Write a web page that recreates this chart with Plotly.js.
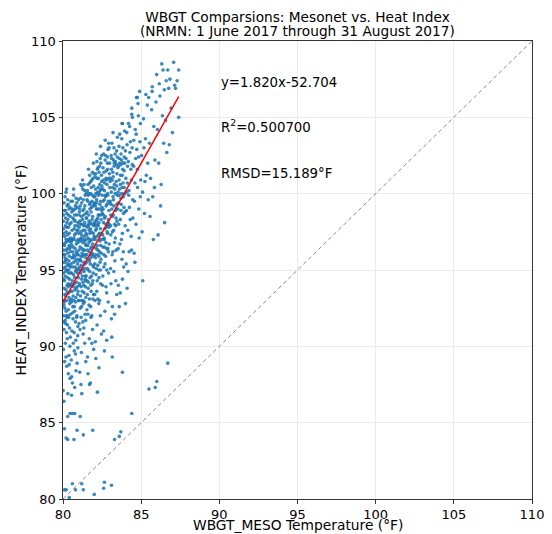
<!DOCTYPE html>
<html><head><meta charset="utf-8">
<script src="https://cdn.plot.ly/plotly-3.0.1.min.js"></script>
<style>html,body{margin:0;padding:0;background:#fff}</style>
</head><body><div id="chart" style="width:552px;height:534px"></div>
<script>
// Points, grouped by WBGT_MESO band: [WBGT_MESO, HEAT_INDEX]
const pts80_0 = [[80.02,95.1],[80.05,96.3],[80.08,93.8],[80.11,97.2],[80.14,94.6],[80.17,98.4],[80.2,92.3],[80.23,95.7],[80.26,96.9],[80.29,91.4],[80.32,94.1],[80.35,97.8],[80.38,93.2],[80.41,95.9],[80.44,99.1],[80.47,90.6],[80.03,89.8],[80.06,92.7],[80.09,98.9],[80.12,96.0],[80.15,90.2],[80.18,94.9],[80.21,97.5],[80.24,88.7],[80.27,93.5],[80.3,99.6],[80.33,95.3],[80.36,91.9],[80.39,96.6],[80.42,94.4],[80.45,87.9],[80.48,97.1],[80.04,97.7],[80.07,91.1],[80.1,94.3],[80.13,99.8],[80.16,95.6],[80.19,89.3],[80.22,93.0],[80.25,98.1],[80.28,96.4],[80.31,92.0],[80.34,88.2],[80.37,95.0],[80.4,97.4],[80.43,92.8],[80.46,96.2],[80.49,93.6],[80.01,87.1],[80.06,86.4],[80.14,91.7],[80.22,90.9],[80.31,86.9],[80.38,89.4],[80.44,90.0],[80.09,95.5],[80.17,96.8],[80.26,94.0],[80.35,98.6],[80.42,97.0],[80.02,98.2],[80.12,92.5],[80.28,95.4],[80.47,94.8],[80.19,100.1],[80.33,99.3],[80.1,84.6],[80.2,84.0],[80.3,83.9],[80.1,80.6],[80.2,80.6],[80.4,80.1],[80.3,85.4],[80.45,85.6],
  [80.05,94.4],[80.08,96.7],[80.12,93.4],[80.15,97.9],[80.18,92.0],[80.21,95.0],[80.24,98.7],[80.27,90.5],[80.3,96.1],[80.33,93.9],[80.36,94.8],[80.39,99.0],[80.42,91.2],[80.45,96.5],[80.48,95.2],[80.03,91.6],[80.07,99.4],[80.11,89.0],[80.16,93.3],[80.2,97.0],[80.25,91.9],[80.29,97.3],[80.34,92.4],[80.38,95.6],[80.43,98.0],[80.47,92.1],[80.01,93.0],[80.04,96.0],[80.23,100.3],[80.4,88.8]];
const pts80_5 = [[80.52,95.4],[80.55,93.1],[80.58,97.6],[80.61,96.2],[80.64,91.8],[80.67,94.7],[80.7,98.3],[80.73,92.6],[80.76,95.9],[80.79,99.2],[80.82,90.4],[80.85,96.7],[80.88,94.2],[80.91,97.9],[80.94,93.4],[80.97,95.1],[80.53,89.1],[80.56,98.8],[80.59,94.0],[80.62,92.2],[80.65,96.5],[80.68,100.3],[80.71,90.9],[80.74,97.3],[80.77,93.7],[80.8,95.6],[80.83,88.4],[80.86,98.6],[80.89,92.0],[80.92,96.0],[80.95,91.3],[80.98,97.0],[80.54,96.9],[80.57,91.0],[80.6,87.6],[80.63,95.2],[80.66,93.9],[80.69,97.1],[80.72,89.7],[80.75,94.5],[80.78,96.4],[80.81,92.9],[80.84,99.7],[80.87,95.0],[80.9,88.9],[80.93,94.8],[80.96,98.1],[80.99,93.0],[80.51,94.1],[80.6,99.5],[80.7,95.8],[80.8,91.6],[80.9,96.1],[80.55,86.8],[80.75,87.3],[80.95,89.9],[80.6,81.0],[80.8,80.6],[80.7,83.9],[80.6,85.6],[80.75,85.6],[80.9,84.5],
  [80.51,96.8],[80.54,92.9],[80.57,95.8],[80.6,94.3],[80.63,98.4],[80.66,90.2],[80.69,95.5],[80.72,97.7],[80.75,92.3],[80.78,99.0],[80.81,94.9],[80.84,96.2],[80.87,91.9],[80.9,97.6],[80.93,95.4],[80.96,93.6],[80.99,99.6],[80.52,98.1],[80.58,93.6],[80.64,97.0],[80.7,93.0],[80.76,97.9],[80.82,93.2],[80.88,96.9],[80.94,90.7],[80.56,88.0],[80.68,99.9],[80.8,89.5],[80.92,99.1],[80.98,94.5]];
const pts81_0 = [[81.02,96.3],[81.05,94.0],[81.08,98.2],[81.11,92.5],[81.14,97.0],[81.17,95.3],[81.2,99.4],[81.23,93.6],[81.26,96.8],[81.29,90.8],[81.32,97.9],[81.35,94.9],[81.38,100.2],[81.41,92.1],[81.44,96.0],[81.47,98.7],[81.03,91.5],[81.06,99.0],[81.09,95.7],[81.12,93.3],[81.15,97.5],[81.18,89.6],[81.21,96.4],[81.24,94.6],[81.27,98.9],[81.3,92.8],[81.33,95.5],[81.36,97.2],[81.39,90.2],[81.42,99.9],[81.45,94.3],[81.48,96.6],[81.04,97.8],[81.07,88.3],[81.1,96.9],[81.13,100.6],[81.16,91.9],[81.19,94.4],[81.22,98.0],[81.25,95.9],[81.28,93.0],[81.31,99.6],[81.34,91.2],[81.37,95.1],[81.4,97.6],[81.43,93.9],[81.46,89.0],[81.49,98.4],[81.05,95.0],[81.15,87.5],[81.25,100.9],[81.35,93.5],[81.45,95.8],[81.2,86.9],[81.2,81.0],[81.3,80.6],[81.3,84.2],[81.1,85.4],
  [81.01,97.4],[81.04,93.0],[81.07,95.2],[81.1,99.2],[81.13,94.8],[81.16,97.1],[81.19,92.6],[81.22,96.1],[81.25,98.3],[81.28,94.2],[81.31,96.3],[81.34,99.0],[81.37,92.9],[81.4,95.4],[81.43,97.9],[81.46,93.2],[81.49,100.0],[81.03,98.6],[81.09,91.1],[81.15,95.9],[81.21,100.5],[81.27,91.6],[81.33,94.0],[81.39,98.1],[81.45,91.7],[81.06,94.1],[81.18,98.5],[81.3,97.0],[81.42,96.7],[81.48,94.6]];
const pts81_5 = [[81.52,97.3],[81.55,95.1],[81.58,99.5],[81.61,93.8],[81.64,98.0],[81.67,96.2],[81.7,100.7],[81.73,94.5],[81.76,97.7],[81.79,91.9],[81.82,99.1],[81.85,96.0],[81.88,101.4],[81.91,93.1],[81.94,97.4],[81.97,99.8],[81.53,92.4],[81.56,100.2],[81.59,96.6],[81.62,94.2],[81.65,98.6],[81.68,90.5],[81.71,97.0],[81.74,95.4],[81.77,100.0],[81.8,93.6],[81.83,96.5],[81.86,98.3],[81.89,91.1],[81.92,101.0],[81.95,95.2],[81.98,97.9],[81.54,98.8],[81.57,89.3],[81.6,97.1],[81.63,101.6],[81.66,92.7],[81.69,95.6],[81.72,99.0],[81.75,96.9],[81.78,94.0],[81.81,100.4],[81.84,92.0],[81.87,96.1],[81.9,98.5],[81.93,94.8],[81.96,89.8],[81.99,99.3],[81.6,88.2],[81.75,87.6],[81.85,90.2],[81.95,102.0],[81.9,84.5],[81.7,87.5],
  [81.51,98.4],[81.54,94.3],[81.57,96.3],[81.6,100.6],[81.63,95.7],[81.66,98.2],[81.69,93.1],[81.72,97.4],[81.75,99.4],[81.78,95.8],[81.81,97.5],[81.84,100.9],[81.87,94.1],[81.9,96.7],[81.93,99.2],[81.96,95.9],[81.99,97.2],[81.53,96.0],[81.59,92.1],[81.65,96.8],[81.71,101.2],[81.77,92.6],[81.83,94.6],[81.89,99.9],[81.95,93.4],[81.62,99.9],[81.8,98.8],[81.98,101.3]];
const pts82_0 = [[82.02,98.1],[82.05,96.0],[82.08,100.3],[82.11,94.7],[82.14,99.0],[82.17,97.2],[82.2,101.6],[82.23,95.3],[82.26,98.6],[82.29,92.8],[82.32,100.0],[82.35,96.9],[82.38,102.3],[82.41,94.1],[82.44,98.3],[82.47,100.8],[82.03,93.4],[82.06,101.1],[82.09,97.6],[82.12,95.1],[82.15,99.6],[82.18,91.4],[82.21,98.0],[82.24,96.3],[82.27,101.0],[82.3,94.5],[82.33,97.4],[82.36,99.3],[82.39,92.0],[82.42,102.0],[82.45,96.1],[82.48,98.9],[82.04,99.8],[82.07,90.3],[82.1,98.2],[82.13,102.6],[82.16,93.6],[82.19,96.6],[82.22,100.1],[82.25,97.9],[82.28,95.0],[82.31,101.4],[82.34,93.0],[82.37,97.0],[82.4,99.5],[82.43,95.7],[82.46,90.8],[82.49,100.5],[82.1,89.2],[82.3,88.6],[82.4,103.1],[82.0,80.3],[82.2,87.0],
  [82.01,97.1],[82.04,95.4],[82.07,99.2],[82.1,101.3],[82.13,96.4],[82.16,99.4],[82.19,94.3],[82.22,98.4],[82.25,100.4],[82.28,97.3],[82.31,98.6],[82.34,101.8],[82.37,95.5],[82.4,97.7],[82.43,100.3],[82.46,97.4],[82.49,99.1],[82.05,93.0],[82.11,97.9],[82.17,102.1],[82.23,93.1],[82.29,95.9],[82.35,100.6],[82.41,96.6],[82.47,102.5],[82.2,99.0]];
const pts82_5 = [[82.52,98.7],[82.55,96.5],[82.58,100.9],[82.61,95.2],[82.64,99.6],[82.67,97.7],[82.7,102.2],[82.73,95.9],[82.76,99.2],[82.79,93.5],[82.82,100.6],[82.85,97.4],[82.88,102.9],[82.91,94.8],[82.94,98.9],[82.97,101.3],[82.53,94.0],[82.56,101.7],[82.59,98.1],[82.62,96.0],[82.65,100.2],[82.68,92.3],[82.71,98.5],[82.74,96.8],[82.77,101.5],[82.8,95.0],[82.83,97.9],[82.86,99.9],[82.89,92.9],[82.92,103.3],[82.95,96.7],[82.98,99.4],[82.6,91.0],[82.7,103.5],[82.8,90.4],[82.9,96.2],[82.65,89.7],[82.85,102.4],[82.6,80.7],[82.65,81.1],
  [82.51,99.9],[82.54,97.3],[82.57,99.0],[82.6,102.6],[82.63,97.1],[82.66,100.7],[82.69,95.4],[82.72,99.8],[82.75,101.0],[82.78,97.8],[82.81,99.3],[82.84,102.0],[82.87,96.4],[82.9,98.3],[82.93,101.0],[82.96,98.0],[82.99,100.4],[82.55,94.6],[82.65,98.4],[82.75,93.9],[82.85,100.0],[82.95,103.0]];
const pts83_0 = [[83.02,99.5],[83.06,97.3],[83.1,101.6],[83.14,96.0],[83.18,100.4],[83.22,98.6],[83.26,103.0],[83.3,96.8],[83.34,100.0],[83.38,94.3],[83.42,101.9],[83.46,98.2],[83.04,95.1],[83.08,102.5],[83.12,99.0],[83.16,92.6],[83.2,99.8],[83.24,97.6],[83.28,102.0],[83.32,95.6],[83.36,98.9],[83.4,100.8],[83.44,93.4],[83.48,103.7],[83.05,97.9],[83.15,100.9],[83.25,94.9],[83.35,97.1],[83.45,99.3],[83.1,91.8],[83.3,92.1],[83.2,104.0],[83.4,96.3],[83.12,90.6],[83.1,80.9],[83.3,83.9],[83.15,89.3],
  [83.01,100.8],[83.05,98.6],[83.09,100.1],[83.13,103.3],[83.17,97.5],[83.21,101.1],[83.25,99.2],[83.29,100.6],[83.33,102.6],[83.37,97.9],[83.41,99.0],[83.45,101.3],[83.49,99.9],[83.07,94.1],[83.19,96.2],[83.31,98.0],[83.43,102.8],[83.23,102.2]];
const pts83_5 = [[83.52,100.1],[83.56,98.0],[83.6,102.3],[83.64,96.7],[83.68,101.2],[83.72,99.3],[83.76,103.6],[83.8,97.4],[83.84,100.7],[83.88,95.2],[83.92,102.4],[83.96,98.8],[83.54,94.0],[83.58,103.1],[83.62,100.3],[83.66,93.5],[83.7,99.7],[83.74,97.0],[83.78,104.6],[83.82,101.6],[83.86,96.2],[83.9,99.1],[83.94,104.1],[83.98,97.9],[83.6,92.6],[83.8,94.4],[83.7,101.9],[83.6,84.1],[83.7,84.4],[83.8,88.3],[83.8,104.6],
  [83.51,101.7],[83.55,99.4],[83.59,100.9],[83.63,103.9],[83.67,98.3],[83.71,102.6],[83.75,100.0],[83.79,101.2],[83.83,103.0],[83.87,98.7],[83.91,100.4],[83.95,102.0],[83.53,96.4],[83.77,95.7]];
const pts84_0 = [[84.02,101.0],[84.06,98.9],[84.1,103.2],[84.14,97.6],[84.18,102.1],[84.22,100.2],[84.26,104.4],[84.3,98.3],[84.34,101.6],[84.38,96.3],[84.42,103.0],[84.46,99.6],[84.04,95.4],[84.08,104.0],[84.12,100.7],[84.16,94.9],[84.2,99.9],[84.28,102.7],[84.36,97.2],[84.44,105.0],[84.1,93.8],[84.0,92.8],[84.4,105.6],[84.4,105.2],[84.4,85.6],
  [84.03,102.3],[84.07,100.1],[84.13,101.8],[84.19,104.6],[84.25,99.1],[84.31,103.4],[84.37,100.9],[84.43,101.9],[84.47,98.4],[84.23,96.2]];
const pts84_5 = [[84.52,101.8],[84.57,99.5],[84.62,104.2],[84.67,98.0],[84.72,102.9],[84.77,100.4],[84.82,105.1],[84.87,97.1],[84.92,103.4],[84.97,100.9],[84.55,96.1],[84.65,102.3],[84.75,106.3],[84.85,99.0],[84.95,104.6],[84.6,95.5],[84.8,105.9],[84.9,106.7],[84.7,106.3],
  [84.53,103.5],[84.6,100.7],[84.68,103.9],[84.76,101.6],[84.84,102.4],[84.94,99.8]];
const pts85_0 = [[85.03,102.5],[85.09,100.1],[85.15,104.9],[85.21,98.7],[85.27,103.6],[85.33,101.2],[85.39,105.8],[85.45,99.6],[85.06,97.5],[85.18,103.0],[85.3,106.5],[85.42,102.0],[85.1,94.3],[85.24,100.8],[85.48,106.3]];
const pts85_5 = [[85.53,103.3],[85.6,101.0],[85.67,105.5],[85.74,99.8],[85.81,104.4],[85.88,102.2],[85.95,106.0],[85.57,98.5],[85.71,107.0],[85.85,100.4],[85.7,106.7],[85.5,87.2],[85.9,87.3],[85.99,107.8],[85.78,97.0]];
const pts86_0 = [[86.04,104.2],[86.12,102.0],[86.2,106.4],[86.28,100.6],[86.36,105.1],[86.44,103.3],[86.08,97.3],[86.16,107.2],[86.32,108.5],[86.4,108.1],[86.0,87.7],[86.24,99.2],[86.48,106.8]];
const pts86_5 = [[86.5,98.1],[86.56,104.8],[86.64,102.7],[86.7,108.1],[86.76,106.9],[86.84,107.5],[86.7,88.9],[86.8,103.2],[86.92,105.6],[87.0,104.0],[87.08,108.6],[87.14,107.1],[87.2,106.9],[87.3,107.4],[87.4,108.1],[87.4,105.0],[86.6,107.4]];
// Extra points in the solid core of the cloud
const ptsCoreDense = [[80.03,94.8],[80.06,97.4],[80.09,92.9],[80.13,95.8],[80.16,98.9],[80.19,93.7],[80.22,96.3],[80.26,99.2],[80.29,94.5],[80.32,97.0],[80.36,93.5],[80.39,95.3],[80.43,96.4],[80.46,98.5],[80.49,94.0],[80.52,97.0],[80.55,94.8],[80.59,99.0],[80.62,95.8],[80.65,93.3],[80.68,96.0],[80.72,94.1],[80.75,98.6],[80.78,95.2],[80.82,97.4],[80.85,93.8],[80.88,99.4],[80.91,95.7],[80.95,97.6],[80.98,96.0],[80.04,98.6],[80.1,96.6],[80.17,91.5],[80.24,97.8],[80.31,98.3],[80.37,96.9],[80.44,93.0],[80.5,99.5],[80.57,96.6],[80.63,92.6],[80.7,97.0],[80.77,98.2],[80.83,95.0],[80.9,93.9],[80.96,96.8],[80.02,92.0],[80.14,95.2],[80.27,95.0],[80.41,94.0],[80.66,98.9],
  [81.02,95.6],[81.05,98.8],[81.09,96.5],[81.12,99.7],[81.16,93.9],[81.19,97.3],[81.23,95.0],[81.26,100.3],[81.3,96.0],[81.33,98.6],[81.37,96.3],[81.4,99.2],[81.44,94.6],[81.47,97.4],[81.5,95.5],[81.54,99.6],[81.57,97.8],[81.61,95.0],[81.64,100.0],[81.68,97.6],[81.71,94.9],[81.75,98.1],[81.78,100.8],[81.82,96.0],[81.85,99.5],[81.89,97.0],[81.92,95.3],[81.96,100.5],[81.99,98.0],[81.07,97.0],[81.14,95.6],[81.21,93.0],[81.28,97.6],[81.35,100.6],[81.42,94.4],[81.49,97.0],[81.56,93.4],[81.63,97.9],[81.7,99.3],[81.77,96.4],[81.84,98.0],[81.91,94.3],[81.97,96.5],[81.11,98.0],[81.39,96.9],
  [82.02,99.4],[82.06,97.0],[82.1,100.0],[82.14,97.7],[82.18,101.0],[82.22,96.0],[82.26,99.9],[82.3,98.1],[82.34,96.2],[82.38,100.2],[82.42,98.6],[82.46,101.2],[82.5,97.0],[82.54,100.3],[82.58,98.6],[82.62,101.4],[82.66,96.5],[82.7,99.9],[82.74,98.0],[82.78,100.9],[82.82,97.5],[82.86,101.6],[82.9,99.5],[82.94,97.8],[82.98,102.0],[82.08,95.8],[82.24,101.7],[82.4,95.0],[82.56,99.5],[82.72,102.5],[82.88,98.1],[82.32,99.0],[82.64,97.0],[82.16,98.3],[82.8,96.4],
  [83.03,101.0],[83.07,99.3],[83.11,102.3],[83.15,98.5],[83.19,101.4],[83.23,99.6],[83.27,101.8],[83.31,100.3],[83.35,102.1],[83.39,98.4],[83.43,100.5],[83.47,102.4],[83.51,99.0],[83.55,101.8],[83.59,99.9],[83.63,102.0],[83.67,100.6],[83.71,98.9],[83.75,102.2],[83.79,100.4],[83.83,102.0],[83.87,99.8],[83.91,101.5],[83.95,100.0],[83.99,102.8]];

// Regression and statistics shown on the chart
const fitSlope = 1.820;
const fitIntercept = -52.704;
const titleLine1 = 'WBGT Comparsions: Mesonet vs. Heat Index';
const titleLine2 = '(NRMN: 1 June 2017 through 31 August 2017)';
const xTitle = 'WBGT_MESO Temperature (°F)';
const yTitle = 'HEAT_INDEX Temperature (°F)';
const eqText = 'y=1.820x-52.704';
const r2Text = 'R<sup>2</sup>=0.500700';
const rmsdText = 'RMSD=15.189°F';
const axisTicks = [80, 85, 90, 95, 100, 105, 110];
const oneToOne = [80, 110];

const allPts = [].concat(pts80_0, pts80_5, pts81_0, pts81_5, pts82_0, pts82_5, pts83_0,
  pts83_5, pts84_0, pts84_5, pts85_0, pts85_5, pts86_0, pts86_5, ptsCoreDense);
const xs = allPts.map(p => p[0]);
const ys = allPts.map(p => p[1]);
const xMin = Math.min(...xs), xMax = Math.max(...xs);

const font = 'DejaVu Sans, sans-serif';
const traces = [
  {x: oneToOne, y: oneToOne, type: 'scatter', mode: 'lines',
   line: {color: '#888888', width: 1, dash: '4px,3px'}, hoverinfo: 'skip'},
  {x: xs, y: ys, type: 'scatter', mode: 'markers',
   marker: {color: '#1f77b4', size: 3.6, opacity: 0.88, line: {width: 0}}},
  {x: [xMin, xMax], y: [fitSlope * xMin + fitIntercept, fitSlope * xMax + fitIntercept],
   type: 'scatter', mode: 'lines', line: {color: '#ff0000', width: 1.5}}
];

const axisCommon = {
  range: [80, 110], tickvals: axisTicks, ticktext: axisTicks.map(String),
  showgrid: true, gridcolor: '#ebebeb', gridwidth: 1, zeroline: false,
  showline: true, mirror: true, linecolor: '#333333', linewidth: 1,
  ticks: 'outside', ticklen: 3.5, tickcolor: '#333333',
  tickfont: {family: font, size: 13, color: '#000'}, automargin: false
};

const textFont = {family: font, size: 13.3, color: '#000'};
const layout = {
  width: 552, height: 534,
  margin: {l: 63, r: 20, t: 41, b: 35},
  paper_bgcolor: '#ffffff', plot_bgcolor: '#ffffff',
  showlegend: false,
  font: {family: font, color: '#000'},
  title: {text: titleLine1,
          font: {family: font, size: 13.7, color: '#000'}, x: 0.5, xref: 'paper', xanchor: 'center',
          y: 1 - 17 / 534, yref: 'container', yanchor: 'middle'},
  xaxis: Object.assign({}, axisCommon),
  yaxis: Object.assign({}, axisCommon, {
    title: {text: yTitle, font: {family: font, size: 14, color: '#000'}, standoff: 1}}),
  annotations: [
    {x: 0.5, y: 1 + 10 / 458, xref: 'paper', yref: 'paper', xanchor: 'center', yanchor: 'middle',
     text: titleLine2, showarrow: false, font: {family: font, size: 13.7, color: '#000'}},
    {x: 0.5, y: -(525 - 499) / 458, xref: 'paper', yref: 'paper', xanchor: 'center', yanchor: 'middle',
     text: xTitle, showarrow: false, font: {family: font, size: 13.8, color: '#000'}}
  ].concat([
    {x: 90, y: 107.3, text: eqText},
    {x: 90, y: 104.4, text: r2Text},
    {x: 90, y: 101.35, text: rmsdText}
  ].map(a => Object.assign(a, {xref: 'x', yref: 'y', xanchor: 'left', yanchor: 'middle',
      showarrow: false, font: textFont})))
};

Plotly.newPlot('chart', traces, layout, {displayModeBar: false, staticPlot: true});
</script></body></html>
